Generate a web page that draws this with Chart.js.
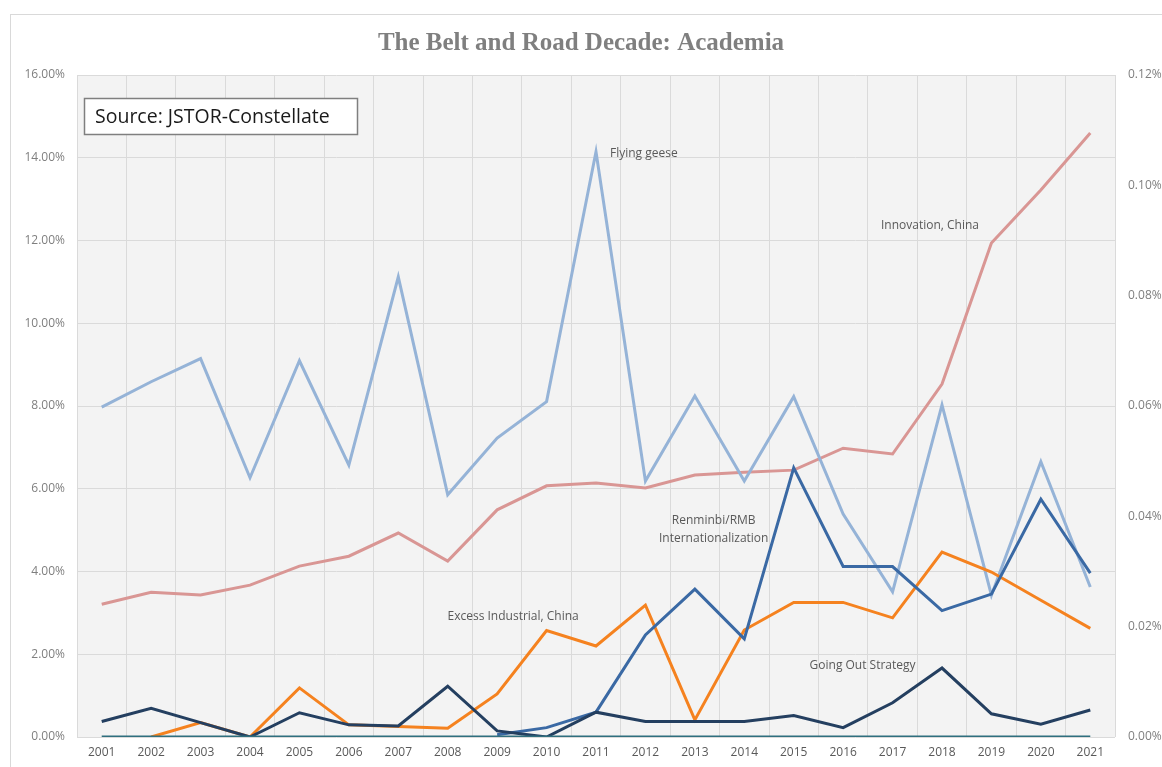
<!DOCTYPE html>
<html>
<head>
<meta charset="utf-8">
<title>The Belt and Road Decade: Academia</title>
<script src="https://cdn.jsdelivr.net/npm/chart.js@4.4.1/dist/chart.umd.min.js"></script>
<style>
  html, body { margin: 0; padding: 0; background: #ffffff; }
  #wrap { width: 1162px; height: 767px; }
</style>
</head>
<body>
<div id="wrap"><canvas id="myChart" width="1162" height="767"></canvas></div>
<script>
// Years on the x axis
const years = ['2001', '2002', '2003', '2004', '2005', '2006', '2007', '2008', '2009', '2010',
    '2011', '2012', '2013', '2014', '2015', '2016', '2017', '2018', '2019', '2020', '2021'];

// Left axis (%)
const innovationChina = [3.21, 3.50, 3.43, 3.67, 4.13, 4.37, 4.93, 4.25, 5.49, 6.07,
    6.14, 6.02, 6.33, 6.40, 6.45, 6.98, 6.84, 8.53, 11.94, 13.22, 14.60];

// Right axis (%)
const flyingGeese = [0.0598, 0.0644, 0.0686, 0.0470, 0.0682, 0.0493, 0.0834, 0.0439, 0.0542, 0.0608,
    0.1061, 0.0464, 0.0618, 0.0464, 0.0617, 0.0404, 0.0263, 0.0602, 0.0257, 0.0499, 0.0272];
const excessIndustrial = [null, 0, 0.0026, 0, 0.0089, 0.0022, 0.0019, 0.0016, 0.0078, 0.0193,
    0.0165, 0.0239, 0.0031, 0.0194, 0.0244, 0.0244, 0.0216, 0.0335, 0.0299, 0.0248, 0.0197];
const goingOut = [0.0028, 0.0052, 0.0026, 0, 0.0044, 0.0022, 0.0020, 0.0092, 0.0011, 0,
    0.0045, 0.0028, 0.0028, 0.0028, 0.0039, 0.0017, 0.0062, 0.0125, 0.0042, 0.0023, 0.0049];
const renminbi = [null, null, null, null, null, null, null, null, 0.0004, 0.0017,
    0.0045, 0.0185, 0.0268, 0.0178, 0.0488, 0.0309, 0.0309, 0.0229, 0.0259, 0.0431, 0.0297];
const otherTerm = [0, 0, 0, 0, 0, 0, 0, 0, 0, 0, 0, 0, 0, 0, 0, 0, 0, 0, 0, 0, 0];

// Tick steps
const leftTicks = { min: 0, max: 16, step: 2 };
const rightTicks = { min: 0, max: 0.12, step: 0.02 };

// Text labels placed next to the lines: [text lines, year index, axis, value, dx, dy, align]
const lineLabels = [
    [['Flying geese'], 10, 'y2', 0.1058, 14, 0, 'left'],
    [['Innovation, China'], 17, 'y', 12.35, -12, 0, 'center'],
    [['Renminbi/RMB', 'Internationalization'], 14, 'y2', 0.0392, -80, 0, 'center'],
    [['Excess Industrial, China'], 8, 'y2', 0.0218, 16, 0, 'center'],
    [['Going Out Strategy'], 16, 'y2', 0.0130, -30, 0, 'center']
];

const plotBackground = {
    id: 'plotBackground',
    beforeDraw(chart) {
        const { ctx, chartArea: a } = chart;
        ctx.save();
        ctx.fillStyle = '#f3f3f3';
        ctx.fillRect(a.left, a.top, a.right - a.left, a.bottom - a.top);
        // outer frame of the chart
        ctx.strokeStyle = '#d9d9d9';
        ctx.lineWidth = 1;
        ctx.strokeRect(10.5, 14.5, 1160, 760);
        ctx.restore();
    }
};

const annotations = {
    id: 'annotations',
    afterDatasetsDraw(chart) {
        const { ctx, scales } = chart;
        ctx.save();
        ctx.font = '12px "Open Sans"';
        ctx.fillStyle = '#595959';
        ctx.textBaseline = 'middle';
        lineLabels.forEach(([lines, idx, axis, val, dx, dy, align]) => {
            const x = scales.x.getPixelForValue(idx) + dx;
            const y = scales[axis].getPixelForValue(val) + dy;
            ctx.textAlign = align;
            lines.forEach((t, i) => ctx.fillText(t, x, y + i * 18));
        });
        // source box
        ctx.fillStyle = '#ffffff';
        ctx.fillRect(84, 98, 273, 36);
        ctx.strokeStyle = '#7f7f7f';
        ctx.lineWidth = 1.5;
        ctx.strokeRect(84.5, 98.5, 273, 36);
        ctx.fillStyle = '#1a1a1a';
        ctx.font = '19.5px "Open Sans"';
        ctx.textAlign = 'left';
        ctx.fillText('Source: JSTOR-Constellate', 95, 117);
        ctx.restore();
    }
};

function lineSet(label, data, color, axis, width) {
    return {
        label: label,
        data: data,
        borderColor: color,
        backgroundColor: color,
        borderWidth: width,
        pointRadius: 0,
        tension: 0,
        yAxisID: axis,
        spanGaps: false
    };
}

function createChart() {
    const ctx = document.getElementById('myChart').getContext('2d');
    new Chart(ctx, {
        type: 'line',
        data: {
            labels: years,
            datasets: [
                lineSet('Other', otherTerm, '#2f6f7e', 'y2', 3),
                lineSet('Going Out Strategy', goingOut, '#243f60', 'y2', 3),
                lineSet('Renminbi/RMB Internationalization', renminbi, '#3a69a4', 'y2', 3),
                lineSet('Excess Industrial, China', excessIndustrial, '#f5821f', 'y2', 3),
                lineSet('Flying geese', flyingGeese, '#95b3d7', 'y2', 3),
                lineSet('Innovation, China', innovationChina, '#d99694', 'y', 3)
            ]
        },
        options: {
            responsive: false,
            animation: false,
            layout: { padding: { left: 0, right: 0, top: 0, bottom: 0 } },
            plugins: {
                legend: { display: false },
                tooltip: { enabled: false },
                title: {
                    display: true,
                    text: 'The Belt and Road Decade: Academia',
                    color: '#7f7f7f',
                    font: { family: '"Liberation Serif", serif', size: 25, weight: 'bold' },
                    padding: { top: 29, bottom: 16 }
                }
            },
            scales: {
                x: {
                    offset: true,
                    grid: { color: '#dadada', offset: true, drawTicks: false },
                    border: { display: false },
                    ticks: { color: '#595959', font: { family: '"Open Sans"', size: 12 }, padding: 8, maxRotation: 0 },
                    afterFit(s) { s.height = 30; }
                },
                y: {
                    position: 'left',
                    min: leftTicks.min,
                    max: leftTicks.max,
                    grid: { color: '#dadada', drawTicks: false },
                    border: { display: false },
                    ticks: {
                        stepSize: leftTicks.step,
                        color: '#7f7f7f',
                        font: { family: '"Open Sans"', size: 12 },
                        padding: 12,
                        callback: v => v.toFixed(2) + '%'
                    },
                    afterFit(s) { s.width = 77; }
                },
                y2: {
                    position: 'right',
                    min: rightTicks.min,
                    max: rightTicks.max,
                    grid: { display: false, drawTicks: false },
                    border: { display: false },
                    ticks: {
                        stepSize: rightTicks.step,
                        color: '#7f7f7f',
                        font: { family: '"Open Sans"', size: 12 },
                        padding: 13,
                        callback: v => v.toFixed(2) + '%'
                    },
                    afterFit(s) { s.width = 47; }
                }
            }
        },
        plugins: [plotBackground, annotations]
    });
}

document.addEventListener('DOMContentLoaded', () => {
    createChart();
});
</script>
</body>
</html>
